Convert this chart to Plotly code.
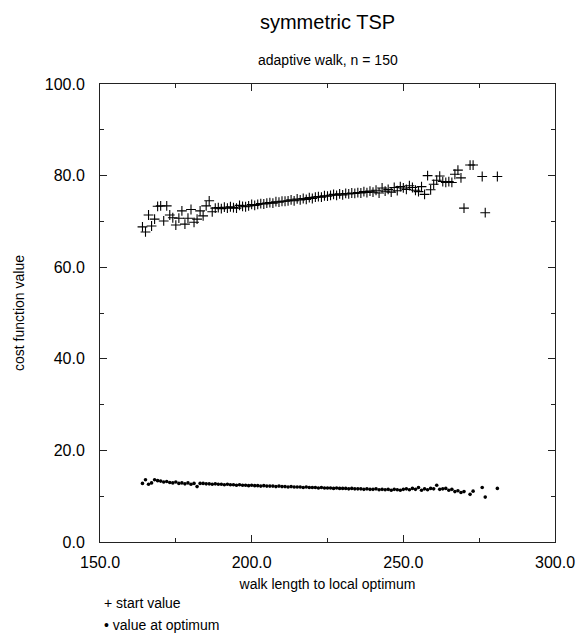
import plotly.graph_objects as go

walk_length = [164, 165, 166, 167, 168, 169, 170, 171, 172, 173, 174, 175, 176, 177, 178, 179,
               180, 181, 182, 183, 184, 185, 186, 187, 188, 189, 190, 191, 192, 193, 194, 195,
               196, 197, 198, 199, 200, 201, 202, 203, 204, 205, 206, 207, 208, 209, 210, 211,
               212, 213, 214, 215, 216, 217, 218, 219, 220, 221, 222, 223, 224, 225, 226, 227,
               228, 229, 230, 231, 232, 233, 234, 235, 236, 237, 238, 239, 240, 241, 242, 243,
               244, 245, 246, 247, 248, 249, 250, 251, 252, 253, 254, 255, 256, 257, 258, 259,
               260, 261, 262, 263, 264, 265, 266, 267, 268, 269, 270, 272, 273, 276, 277, 281]

start_value = [68.8, 67.7, 71.4, 69.0, 70.5, 73.3, 73.4, 70.1, 73.4, 71.4, 70.8, 69.2, 70.7, 72.3, 69.4, 70.7,
               72.6, 69.8, 70.5, 72.3, 71.2, 73.4, 74.5, 72.1, 72.9, 73.0, 72.8, 73.1, 72.9, 73.2, 73.0, 72.9,
               73.5, 73.3, 73.2, 73.4, 73.7, 73.5, 73.7, 73.9, 73.8, 74.0, 74.1, 74.0, 74.3, 74.2, 74.4, 74.4,
               74.5, 74.7, 74.5, 74.9, 74.7, 75.0, 74.8, 75.2, 75.0, 75.3, 75.4, 75.3, 75.6, 75.5, 75.7, 75.9,
               75.7, 76.0, 75.8, 76.1, 76.0, 76.2, 76.1, 76.3, 76.2, 76.5, 76.3, 76.6, 76.4, 76.8, 76.2, 77.3,
               76.6, 77.0, 76.4, 77.4, 76.7, 77.6, 77.3, 77.0, 77.8, 77.4, 76.8, 76.5, 77.6, 75.9, 80.0, 76.9,
               78.1, 79.0, 79.9, 78.7, 78.5, 78.7, 78.5, 80.3, 81.2, 79.5, 72.9, 82.3, 82.3, 79.8, 71.9, 79.8]

optimum_value = [12.8, 13.6, 12.6, 12.9, 13.6, 13.4, 13.3, 13.1, 13.2, 13.0, 12.9, 13.1, 12.8, 12.9, 12.7, 12.9,
                 12.6, 12.8, 12.1, 12.8, 12.8, 12.7, 12.7, 12.6, 12.7, 12.6, 12.6, 12.5, 12.6, 12.5, 12.5, 12.4,
                 12.5, 12.4, 12.4, 12.3, 12.4, 12.3, 12.3, 12.2, 12.3, 12.2, 12.2, 12.2, 12.1, 12.2, 12.1, 12.1,
                 12.0, 12.1, 12.0, 12.0, 12.0, 11.9, 12.0, 11.9, 11.9, 11.9, 11.8, 11.9, 11.8, 11.8, 11.8, 11.7,
                 11.8, 11.7, 11.7, 11.7, 11.6, 11.7, 11.6, 11.6, 11.6, 11.5, 11.6, 11.5, 11.5, 11.6, 11.4, 11.5,
                 11.4, 11.5, 11.3, 11.5, 11.4, 11.3, 11.5, 11.6, 11.4, 11.7, 11.5, 11.9, 11.3, 11.6, 11.4, 11.7,
                 11.6, 12.4, 11.5, 11.6, 11.7, 11.3, 11.5, 11.0, 11.2, 10.8, 11.0, 10.4, 11.1, 11.9, 9.8, 11.7]

x_ticks = [150, 200, 250, 300]
x_tick_labels = ["150.0", "200.0", "250.0", "300.0"]
y_ticks = [0, 20, 40, 60, 80, 100]
y_tick_labels = ["0.0", "20.0", "40.0", "60.0", "80.0", "100.0"]
series_names = ["start value", "value at optimum"]
legend_glyphs = ["+", "•"]

FONT = "Liberation Sans, Arial, Helvetica, sans-serif"

fig = go.Figure()
fig.add_trace(go.Scatter(
    x=walk_length, y=start_value, mode="markers", name=series_names[0],
    marker=dict(symbol="cross-thin", size=7, line=dict(width=1.1, color="black"), color="black"),
))
fig.add_trace(go.Scatter(
    x=walk_length, y=optimum_value, mode="markers", name=series_names[1],
    marker=dict(symbol="circle", size=3.6, color="black"),
))

axis_common = dict(
    showgrid=False, zeroline=False, showline=True, linecolor="#222", linewidth=1,
    mirror="allticks", ticks="inside", ticklen=7, tickcolor="#222", tickwidth=1,
    tickfont=dict(family=FONT, size=16, color="black"), automargin=False,
)

annotations = [dict(text="adaptive walk, n = 150", xref="paper", yref="paper", x=0.5, y=1.0,
                    yshift=24, xanchor="center", yanchor="middle", showarrow=False,
                    font=dict(family=FONT, size=14, color="black"))]
for i, (g, nm) in enumerate(zip(legend_glyphs, series_names)):
    annotations.append(dict(text=g + " " + nm, xref="paper", yref="paper", x=0.0, y=0.0,
                            xshift=2, yshift=-61 - 22 * i, xanchor="left", yanchor="middle",
                            showarrow=False, font=dict(family=FONT, size=14, color="black")))

fig.update_layout(
    width=578, height=637,
    margin=dict(l=100, r=23, t=84, b=95, autoexpand=False),
    paper_bgcolor="white", plot_bgcolor="white",
    font=dict(family=FONT, color="black"),
    title=dict(text="symmetric TSP", x=0.5667, xanchor="center", y=0.965, yanchor="middle",
               font=dict(family=FONT, size=20, color="black")),
    xaxis=dict(range=[150, 300], tickvals=x_ticks, ticktext=x_tick_labels, ticklabelstandoff=6,
               minor=dict(dtick=25, ticks="inside", ticklen=4, tickcolor="#222"),
               title=dict(text="walk length to local optimum", font=dict(family=FONT, size=14), standoff=8),
               **axis_common),
    yaxis=dict(range=[0, 100], tickvals=y_ticks, ticktext=y_tick_labels, ticklabelstandoff=11,
               minor=dict(dtick=10, ticks="inside", ticklen=4, tickcolor="#222"),
               title=dict(text="cost function value", font=dict(family=FONT, size=14), standoff=16),
               **axis_common),
    showlegend=False,
    annotations=annotations,
)

fig.write_html("out.html")
